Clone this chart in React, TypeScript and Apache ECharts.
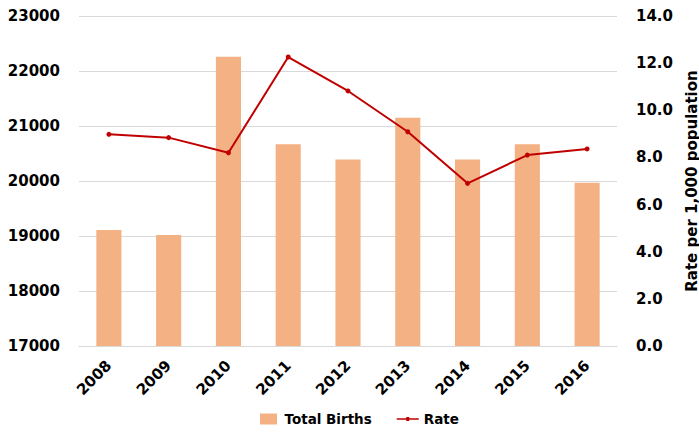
import React, { useEffect, useRef } from "react";
import * as echarts from "echarts";

const years = ["2008", "2009", "2010", "2011", "2012", "2013", "2014", "2015", "2016"];
const totalBirths = [19110, 19020, 22260, 20670, 20390, 21150, 20390, 20670, 19970];
const rate = [8.98, 8.84, 8.2, 12.26, 10.82, 9.09, 6.9, 8.1, 8.36];

const FONT = "DejaVu Sans";

export default function App() {
  const ref = useRef<HTMLDivElement>(null);
  useEffect(() => {
    if (!ref.current) return;
    const chart = echarts.init(ref.current, undefined, { renderer: "svg", width: 699, height: 437 });
    chart.setOption({
      animation: false,
      textStyle: { fontFamily: FONT },
      grid: {
        left: 79,
        width: 538,
        top: 16,
        height: 330,
        containLabel: false,
        outerBoundsMode: "none",
      },
      legend: {
        bottom: 6,
        left: 255,
        itemWidth: 22,
        itemHeight: 11,
        itemGap: 25,
        textStyle: { fontFamily: FONT, fontSize: 13.5, fontWeight: "bold", color: "#000" },
        data: [
          { name: "Total Births", icon: "path://M0,0H17V11H0Z" },
          { name: "Rate", icon: "path://M0,2H22V3.6H0Z M9.5,0.8H12.5V4.8H9.5Z" },
        ],
      },
      xAxis: {
        type: "category",
        data: years,
        axisLine: { lineStyle: { color: "#d9d9d9", width: 1 } },
        axisTick: { show: false },
        axisLabel: {
          rotate: 45,
          margin: 17,
          fontFamily: FONT,
          fontSize: 15,
          fontWeight: "bold",
          color: "#000",
        },
      },
      yAxis: [
        {
          type: "value",
          min: 17000,
          max: 23000,
          interval: 1000,
          axisLine: { show: false },
          axisTick: { show: false },
          splitLine: { lineStyle: { color: "#d9d9d9", width: 1 } },
          axisLabel: {
            margin: 19,
            fontFamily: FONT,
            fontSize: 15,
            fontWeight: "bold",
            color: "#000",
            formatter: (v: number) => String(v),
          },
        },
        {
          type: "value",
          min: 0,
          max: 14,
          interval: 2,
          position: "right",
          axisLine: { show: false },
          axisTick: { show: false },
          splitLine: { show: false },
          name: "Rate per 1,000 population",
          nameLocation: "middle",
          nameRotate: 90,
          nameGap: 67,
          nameTextStyle: {
            fontFamily: FONT,
            fontSize: 15,
            fontWeight: "bold",
            color: "#000",
          },
          axisLabel: {
            margin: 19,
            fontFamily: FONT,
            fontSize: 15,
            fontWeight: "bold",
            color: "#000",
            formatter: (v: number) => v.toFixed(1),
          },
        },
      ],
      series: [
        {
          name: "Total Births",
          type: "bar",
          data: totalBirths,
          barWidth: "42%",
          itemStyle: { color: "#f4b183" },
        },
        {
          name: "Rate",
          type: "line",
          yAxisIndex: 1,
          data: rate,
          symbol: "circle",
          symbolSize: 5,
          lineStyle: { color: "#c00000", width: 2 },
          itemStyle: { color: "#c00000" },
        },
      ],
    });
    return () => chart.dispose();
  }, []);
  return <div ref={ref} style={{ width: 699, height: 437, position: "absolute", left: 0, top: 0 }} />;
}
